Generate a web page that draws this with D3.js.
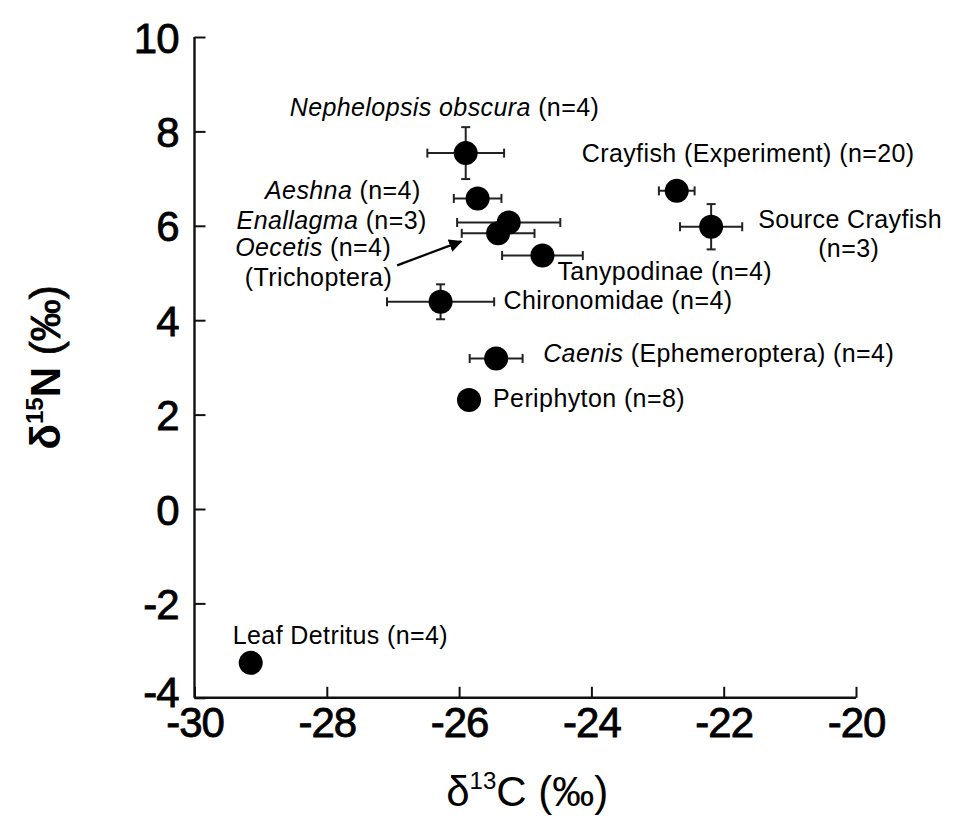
<!DOCTYPE html>
<html>
<head>
<meta charset="utf-8">
<script src="https://cdn.jsdelivr.net/npm/d3@7"></script>
<style>
  html, body { margin: 0; padding: 0; background: #fff; }
  svg { display: block; font-family: "Liberation Sans", Arial, Helvetica, sans-serif; }
</style>
</head>
<body>
<svg id="chart" width="953" height="818"></svg>
<script>
// ---- data ----
const groups   = ["Nephelopsis obscura", "Aeshna", "Enallagma", "Oecetis", "Tanypodinae", "Chironomidae",
                  "Crayfish (Experiment)", "Source Crayfish", "Caenis", "Periphyton", "Leaf Detritus"];
const nSamples = [4, 4, 3, 4, 4, 4, 20, 3, 4, 8, 4];
const d13C     = [-25.90, -25.72, -25.25, -25.41, -24.74, -26.28, -22.71, -22.19, -25.44, -25.85, -29.15];
const d15N     = [7.54, 6.58, 6.07, 5.84, 5.37, 4.39, 6.74, 5.98, 3.19, 2.31, -3.26];
const errC     = [0.58, 0.36, 0.78, 0.55, 0.61, 0.81, 0.27, 0.47, 0.40, 0, 0];
const errN     = [0.55, 0, 0, 0, 0, 0.37, 0, 0.48, 0.22, 0, 0];
const xTicks   = [-30, -28, -26, -24, -22, -20];
const yTicks   = [-4, -2, 0, 2, 4, 6, 8, 10];

// label text parts: [text, italic]
const labelParts = [
  [["Nephelopsis obscura", true], [" (n=4)", false]],
  [["Aeshna", true], [" (n=4)", false]],
  [["Enallagma", true], [" (n=3)", false]],
  [["Oecetis", true], [" (n=4)", false]],
  [["Tanypodinae (n=4)", false]],
  [["Chironomidae (n=4)", false]],
  [["Crayfish (Experiment) (n=20)", false]],
  [["Source Crayfish", false]],
  [["Caenis", true], [" (Ephemeroptera) (n=4)", false]],
  [["Periphyton (n=8)", false]],
  [["Leaf Detritus (n=4)", false]]
];
const extraLabels = [
  { parent: 3, parts: [["(Trichoptera)", false]] },
  { parent: 7, parts: [["(n=3)", false]] }
];

// ---- layout (pixel offsets of labels from their point) ----
const labelLayout = [
  { dx: -176, dy: -37, anchor: "start" },
  { dx: -57,  dy: 1,   anchor: "end" },
  { dx: -82,  dy: 7,   anchor: "end" },
  { dx: -107, dy: 23,  anchor: "end" },
  { dx: 15,   dy: 24,  anchor: "start" },
  { dx: 63,   dy: 7,   anchor: "start" },
  { dx: -95,  dy: -29, anchor: "start" },
  { dx: 47,   dy: 1,   anchor: "start" },
  { dx: 47,   dy: 4,   anchor: "start" },
  { dx: 24,   dy: 7,   anchor: "start" },
  { dx: -18,  dy: -19, anchor: "start" }
];
const extraLayout = [
  { dx: -106, dy: 53, anchor: "end" },
  { dx: 107,  dy: 30, anchor: "start" }
];

const svg = d3.select("#chart");
const x = d3.scaleLinear().domain([-30, -20]).range([194.5, 856]);
const y = d3.scaleLinear().domain([-4, 10]).range([697.8, 37]);

// axes
const axisColor = "#111";
const fmt = d => String(d);
const xAxis = svg.append("g").attr("transform", `translate(0,${y(-4)})`)
  .call(d3.axisBottom(x).tickValues(xTicks).tickSize(-11).tickPadding(0).tickFormat(fmt));
const yAxis = svg.append("g").attr("transform", `translate(${x(-30)},0)`)
  .call(d3.axisLeft(y).tickValues(yTicks).tickSize(-11).tickPadding(0).tickFormat(fmt));

[xAxis, yAxis].forEach(g => {
  g.select(".domain").attr("stroke", axisColor).attr("stroke-width", 2.4);
  g.selectAll(".tick line").attr("stroke", axisColor).attr("stroke-width", 2);
  g.selectAll(".tick text")
    .attr("fill", "#000").attr("stroke", "#000").attr("stroke-width", 0.8)
    .style("font-size", "42px").attr("letter-spacing", "-1px");
});
xAxis.selectAll(".tick text").attr("y", 0).attr("dy", "39px");
yAxis.selectAll(".tick text").attr("x", -16).attr("dy", "0.36em");
yAxis.selectAll(".tick").filter(d => d === -4).select("text").attr("dy", "0.2em");
xAxis.select(".domain").attr("d", `M${x(-30)},0H${x(-20)}`);
yAxis.select(".domain").attr("d", `M0,${y(-4)}V${y(10)}`);

// axis titles
const xt = svg.append("text").attr("x", (x(-30) + x(-20)) / 2 + 2).attr("y", 806)
  .attr("text-anchor", "middle").style("font-size", "42px").attr("fill", "#000");
xt.append("tspan").text("δ");
xt.append("tspan").text("13").style("font-size", "24px").attr("dy", "-17");
xt.append("tspan").text("C (‰)").attr("dy", "17");

const yt = svg.append("text")
  .attr("transform", `translate(60,${(y(-4) + y(10)) / 2}) rotate(-90)`)
  .attr("text-anchor", "middle").style("font-size", "42px").attr("fill", "#000")
  .attr("font-weight", "bold");
yt.append("tspan").text("δ");
yt.append("tspan").text("15").style("font-size", "24px").attr("dy", "-17");
yt.append("tspan").text("N ").attr("dy", "17");
yt.append("tspan").text("(‰)").attr("font-weight", "normal").attr("stroke", "#000").attr("stroke-width", 0.8);

// data rows
const rows = groups.map((g, i) => ({ g, i, cx: d13C[i], cy: d15N[i], ex: errC[i], ey: errN[i] }));

// error bars
const eb = svg.append("g").attr("stroke", "#222").attr("stroke-width", 2).attr("fill", "none");
const cap = 4.5;
rows.forEach(r => {
  const px = x(r.cx), py = y(r.cy);
  if (r.ex > 0) {
    const x0 = x(r.cx - r.ex), x1 = x(r.cx + r.ex);
    eb.append("line").attr("x1", x0).attr("x2", x1).attr("y1", py).attr("y2", py);
    eb.append("line").attr("x1", x0).attr("x2", x0).attr("y1", py - cap).attr("y2", py + cap);
    eb.append("line").attr("x1", x1).attr("x2", x1).attr("y1", py - cap).attr("y2", py + cap);
  }
  if (r.ey > 0) {
    const y0 = y(r.cy - r.ey), y1 = y(r.cy + r.ey);
    eb.append("line").attr("x1", px).attr("x2", px).attr("y1", y0).attr("y2", y1);
    eb.append("line").attr("x1", px - cap).attr("x2", px + cap).attr("y1", y0).attr("y2", y0);
    eb.append("line").attr("x1", px - cap).attr("x2", px + cap).attr("y1", y1).attr("y2", y1);
  }
});

// points
svg.append("g").selectAll("circle").data(rows).join("circle")
  .attr("cx", d => x(d.cx)).attr("cy", d => y(d.cy)).attr("r", 12)
  .attr("fill", "#000");

// labels
function addLabel(i, parts, lay) {
  const t = svg.append("text")
    .attr("x", x(d13C[i]) + lay.dx).attr("y", y(d15N[i]) + lay.dy)
    .attr("text-anchor", lay.anchor)
    .style("font-size", "25px").attr("letter-spacing", "0.4px").attr("fill", "#000");
  parts.forEach(([s, it]) => t.append("tspan").text(s).style("font-style", it ? "italic" : "normal"));
}
rows.forEach(r => addLabel(r.i, labelParts[r.i], labelLayout[r.i]));
extraLabels.forEach((e, k) => addLabel(e.parent, e.parts, extraLayout[k]));

// arrow from Oecetis label to its point
const defs = svg.append("defs");
defs.append("marker").attr("id", "ah").attr("viewBox", "0 0 10 10")
  .attr("refX", 9).attr("refY", 5).attr("markerWidth", 6).attr("markerHeight", 6)
  .attr("orient", "auto")
  .append("path").attr("d", "M0,0L10,5L0,10z").attr("fill", "#000");
const oi = 3;
svg.append("line")
  .attr("x1", x(d13C[oi]) - 101).attr("y1", y(d15N[oi]) + 32)
  .attr("x2", x(d13C[oi]) - 37).attr("y2", y(d15N[oi]) + 8)
  .attr("stroke", "#000").attr("stroke-width", 2.2).attr("marker-end", "url(#ah)");
</script>
</body>
</html>
